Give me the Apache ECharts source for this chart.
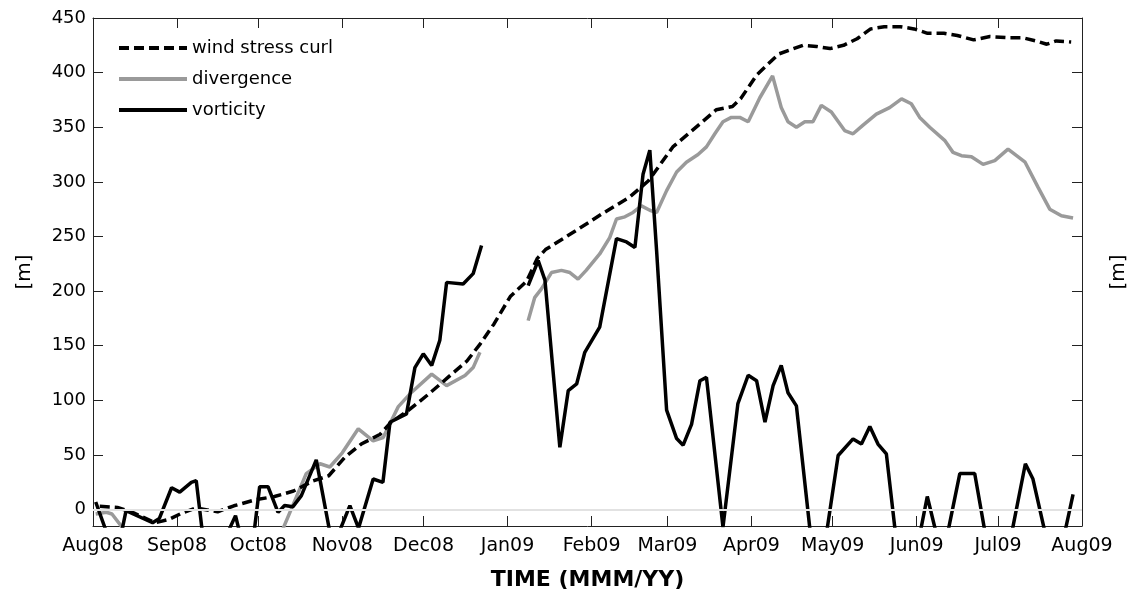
<!DOCTYPE html>
<html>
<head>
<meta charset="utf-8">
<script src="https://cdn.jsdelivr.net/npm/echarts@6/dist/echarts.min.js"></script>
<style>
html,body{margin:0;padding:0;background:#fff;}
#chart{width:1132px;height:600px;}
</style>
</head>
<body>
<div id="chart"></div>
<script>
// x positions are days since 1 Aug 2008
const monthDays = [0,31,61,92,122,153,184,212,243,273,304,334,365];
const monthLabels = ['Aug08','Sep08','Oct08','Nov08','Dec08','Jan09','Feb09','Mar09','Apr09','May09','Jun09','Jul09','Aug09'];
const yTicks = [0,50,100,150,200,250,300,350,400,450];

const wscDays = [2.5,9,15,23,28,33,38,46,52,60,67,74,81,87,93,99,106,110,116,124,131,138,143,148,154,160,164,167,178,188,198,205,214,224,230,236,239,245,253,262,267,272,277,282,287,292,298,303,308,314,319,325,331,338,343,348,352,355.5,361];
const wscVals = [3,2,-3,-12,-9,-3,1.5,-2,3.5,9,12,17,26,31,48,60,69,80,90,106,121,136,152,170,195,209,230,238,255,271,286,301,332,353,366,369,376,398,417,425,424,422,425,431,440,442,442,440,436,436,434,430,433,432,432,429,426,429,428];

const divDays = [1,4.9,7,13.5,68,78.7,83.8,87.4,92,97.9,103.4,107.1,112.6,117,125,130.5,137.3,140.3,142.8,150,
  160.6,163,165.5,169.2,172.9,176,179,182,187,190.7,193.2,196.3,199.3,202.4,205.5,208,211.7,215.4,219,223.3,226.4,229.5,232.5,235.6,238.7,241.8,246.1,250.8,254,256.5,259.6,262.7,265.7,268.8,272.5,277.4,280.5,284.2,289.1,294,298.4,302,305.1,308.8,314.3,317.4,320.5,324.2,328.5,332.8,337.7,344,348.8,353.1,357.4,361.7];
const divVals = [-4,-2.4,-4,-25,-30,33,42,39,52,74,63,66,94,106,124,113.5,122.7,130,144,'-',
  173,194,202,217,219,217,211,219,234,249,266,268,272,278,274,272,292,309,318,325,332,344,355,359,359,355,377,397,368,355,350,355,355,370,364,347,344,352,362,368,376,371.5,359,350,338,327,324,323,316,319.5,330,318,295,275,269,267];

const vorDays = [1,8.5,12.2,22,24.5,29,32,36.3,38.1,42,49,52.6,56,59,61.5,64.6,68.3,70.7,73.8,76.9,82.4,88.5,94.8,98,103.4,107,109.6,115.7,118.8,121.9,125,128,130.5,136.6,140.3,143.4,150,
  160.6,164.3,166.8,172.3,175.4,178.5,181.5,187,193.2,196.9,200,203,205.5,208,211.7,215.4,217.8,220.9,224,226.4,232.5,238,241.8,244.9,248,251,254,256.5,259.6,266,269,275,280.5,283.6,286.7,289.7,292.8,297,303,307.9,313.5,319.9,325.4,332,336,344.1,346.9,354,357,361.7];
const vorVals = [7,-45,-1,-12,-8,20,16,25,26.5,-55,-25,-5.5,-40,-30,21,21,-2.5,3.7,2.7,12.8,45.5,-35,3.7,-17,28,25,80,87.6,130,142.6,132,155,208,206.6,216,241.7,'-',
  205,228,210,57,109,115,144,167,248,245,240,307,329,237,91,65,59,78,118,121,-16,97,123,118,80,113.5,132,107,95,-50,-50,49.5,64.7,60,76,60,51,-40,-50,12,-45,33,33,-60,-60,42,28,-50,-40,14];

function pairs(d, v){ return d.map((x,i)=>[x, v[i]]); }

const FONT = 'DejaVu Sans';
const chart = echarts.init(document.getElementById('chart'), null, {renderer:'canvas'});
const axisLineStyle = {color:'#222', width:1};

chart.setOption({
  animation:false,
  backgroundColor:'#fff',
  grid:{left:93,right:50,top:18,bottom:74,show:false,containLabel:false,outerBoundsMode:'none'},
  legend:{
    data:['wind stress curl','divergence','vorticity'],
    orient:'vertical', left:112, top:34,
    itemWidth:68, itemHeight:14, itemGap:13,
    itemStyle:{opacity:0},
    lineStyle:{width:4},
    textStyle:{fontFamily:FONT,fontSize:18,color:'#000'}
  },
  xAxis:[{
    type:'value', min:0, max:365, position:'bottom',
    axisLine:{show:true,onZero:false,lineStyle:axisLineStyle},
    axisTick:{show:true,inside:true,length:10,customValues:monthDays,lineStyle:axisLineStyle},
    axisLabel:{customValues:monthDays,margin:11,fontFamily:FONT,fontSize:19,color:'#000',
      formatter:function(v){const i=monthDays.indexOf(v);return i>=0?monthLabels[i]:'';}},
    splitLine:{show:false},
    name:'TIME (MMM/YY)', nameLocation:'middle', nameGap:43,
    nameTextStyle:{fontFamily:FONT,fontSize:22,fontWeight:'bold',color:'#000'}
  },{
    type:'value', min:0, max:365, position:'top',
    axisLine:{show:true,onZero:false,lineStyle:axisLineStyle},
    axisTick:{show:true,inside:true,length:10,customValues:monthDays,lineStyle:axisLineStyle},
    axisLabel:{show:false}, splitLine:{show:false}
  }],
  yAxis:[{
    type:'value', min:-15, max:450, position:'left',
    axisLine:{show:true,onZero:false,lineStyle:axisLineStyle},
    axisTick:{show:true,inside:true,length:10,customValues:yTicks,lineStyle:axisLineStyle},
    axisLabel:{customValues:yTicks,margin:7,fontFamily:FONT,fontSize:18,color:'#000'},
    splitLine:{show:false},
    name:'[m]', nameLocation:'middle', nameGap:58,
    nameTextStyle:{fontFamily:FONT,fontSize:20,color:'#000'}
  },{
    type:'value', min:-15, max:450, position:'right',
    axisLine:{show:true,onZero:false,lineStyle:axisLineStyle},
    axisTick:{show:true,inside:true,length:10,customValues:yTicks,lineStyle:axisLineStyle},
    axisLabel:{show:false}, splitLine:{show:false},
    name:'[m]', nameLocation:'middle', nameGap:27,
    nameTextStyle:{fontFamily:FONT,fontSize:20,color:'#000'}
  }],
  series:[{
    name:'zero', type:'line', data:[], z:1, silent:true,
    markLine:{silent:true,symbol:'none',label:{show:false},animation:false,
      lineStyle:{color:'#e2e2e2',width:2,type:'solid'},data:[{yAxis:0}]}
  },{
    name:'divergence', type:'line', data:pairs(divDays,divVals), z:2,
    symbol:'none', showSymbol:false, connectNulls:false,
    lineStyle:{color:'#9a9a9a',width:3.5}, itemStyle:{color:'#9a9a9a'}
  },{
    name:'wind stress curl', type:'line', data:pairs(wscDays,wscVals), z:3,
    symbol:'none', showSymbol:false,
    lineStyle:{color:'#000',width:3.5,type:[10,5]}, itemStyle:{color:'#000'}
  },{
    name:'vorticity', type:'line', data:pairs(vorDays,vorVals), z:4,
    symbol:'none', showSymbol:false, connectNulls:false,
    lineStyle:{color:'#000',width:3.5}, itemStyle:{color:'#000'}
  }]
});
</script>
</body>
</html>
